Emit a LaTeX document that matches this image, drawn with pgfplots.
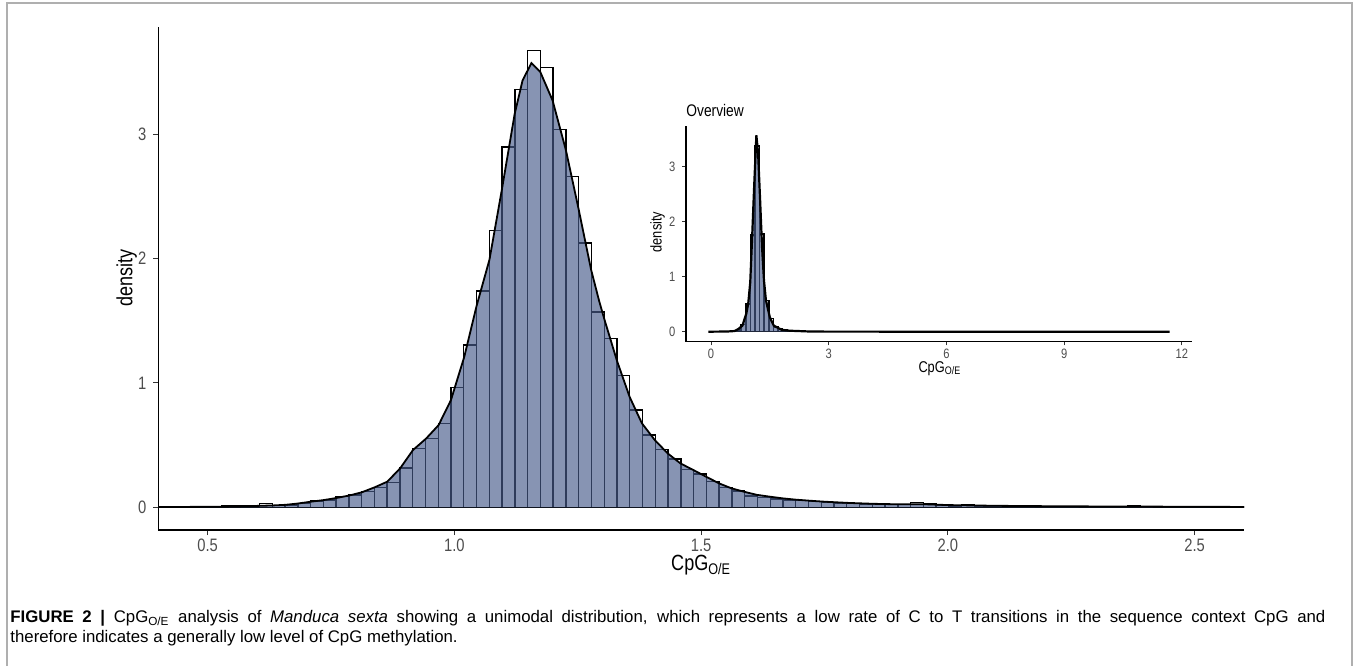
\documentclass[border=0pt]{standalone}
\usepackage{fontspec}
\setmainfont{Liberation Sans}
\newfontfamily\rc[FakeStretch=0.82]{Liberation Sans}
\usepackage{pgfplots}
\usepackage{pgfplotstable}
\pgfplotsset{compat=1.18}

\definecolor{densfill}{RGB}{71,91,139}
\definecolor{ticktext}{RGB}{77,77,77}
\definecolor{framegray}{RGB}{175,175,175}

% main histogram: left bin edge, density (last row = right end)
\pgfplotstableread{
x y
0.3981 0.004
0.4240 0.008
0.4498 0.004
0.4757 0.004
0.5016 0.005
0.5275 0.012
0.5533 0.010
0.5792 0.012
0.6051 0.032
0.6309 0.016
0.6568 0.018
0.6827 0.030
0.7085 0.050
0.7344 0.060
0.7603 0.085
0.7862 0.099
0.8120 0.125
0.8379 0.161
0.8638 0.198
0.8896 0.317
0.9155 0.474
0.9414 0.552
0.9672 0.675
0.9931 0.964
1.0190 1.304
1.0449 1.740
1.0707 2.227
1.0966 2.896
1.1225 3.360
1.1483 3.673
1.1742 3.534
1.2001 3.039
1.2259 2.661
1.2518 2.125
1.2777 1.571
1.3036 1.357
1.3294 1.060
1.3553 0.781
1.3812 0.581
1.4070 0.463
1.4329 0.387
1.4588 0.305
1.4846 0.268
1.5105 0.206
1.5364 0.161
1.5623 0.130
1.5881 0.091
1.6140 0.080
1.6399 0.067
1.6657 0.059
1.6916 0.053
1.7175 0.045
1.7433 0.037
1.7692 0.032
1.7951 0.032
1.8210 0.024
1.8468 0.021
1.8727 0.024
1.8986 0.021
1.9244 0.037
1.9503 0.027
1.9762 0.019
2.0020 0.008
2.0279 0.021
2.0538 0.011
2.0797 0.007
2.1055 0.006
2.1314 0.008
2.1573 0.013
2.1831 0.007
2.2090 0.005
2.2349 0.004
2.2607 0.004
2.2866 0.006
2.3125 0.004
2.3384 0.005
2.3642 0.011
2.3901 0.008
2.4160 0.004
2.4418 0.003
2.4677 0.003
2.4936 0.004
2.5194 0.003
2.5453 0.003
2.5712 0.004
2.5971 0.003
2.6229 0
}\histmain

% kernel density curve
\pgfplotstableread{
x y
0.400 0.003
0.450 0.003
0.500 0.004
0.550 0.006
0.580 0.009
0.606 0.012
0.632 0.015
0.658 0.020
0.682 0.030
0.709 0.045
0.735 0.058
0.761 0.075
0.787 0.095
0.812 0.120
0.838 0.160
0.864 0.206
0.890 0.313
0.916 0.460
0.943 0.554
0.968 0.661
0.993 0.862
1.020 1.210
1.045 1.620
1.071 1.990
1.096 2.550
1.122 3.160
1.138 3.430
1.156 3.571
1.174 3.500
1.199 3.270
1.226 2.870
1.251 2.410
1.277 1.910
1.293 1.663
1.304 1.510
1.329 1.183
1.355 0.888
1.380 0.675
1.406 0.541
1.432 0.434
1.458 0.353
1.484 0.300
1.510 0.246
1.536 0.193
1.561 0.153
1.587 0.125
1.613 0.100
1.640 0.085
1.665 0.072
1.690 0.062
1.720 0.053
1.750 0.045
1.800 0.035
1.850 0.028
1.900 0.024
1.950 0.025
2.000 0.018
2.100 0.012
2.200 0.009
2.300 0.007
2.400 0.006
2.500 0.004
2.600 0.003
}\densmain

% overview histogram (coarser bins)
\pgfplotstableread{
x y
0.1792 0.001
0.2968 0.002
0.4144 0.004
0.5320 0.010
0.6496 0.035
0.7672 0.130
0.8848 0.500
1.0024 1.760
1.1200 3.380
1.2376 1.780
1.3552 0.570
1.4728 0.240
1.5904 0.085
1.7080 0.045
1.8256 0.030
1.9432 0.025
2.0608 0.012
2.1784 0.008
2.2960 0.006
2.4136 0
}\histover

\pgfplotstableread{
x y
-0.070 0.000
0.400 0.003
0.600 0.012
0.700 0.050
0.800 0.110
0.900 0.330
0.950 0.520
1.000 0.900
1.050 1.750
1.100 2.650
1.156 3.571
1.200 3.250
1.250 2.420
1.300 1.550
1.350 0.930
1.400 0.570
1.500 0.260
1.600 0.110
1.800 0.035
2.000 0.018
2.500 0.004
3.000 0.001
11.690 0.000
}\densover

\begin{document}
\begin{tikzpicture}
\path[use as bounding box] (0pt,0pt) rectangle (679pt,333pt);
% figure frame
\draw[framegray, line width=0.9pt] (3.5pt,0pt) -- (3.5pt,331.5pt) -- (676pt,331.5pt) -- (676pt,0pt);

% main panel
\begin{axis}[
    at={(79.15pt,68pt)}, anchor=south west,
    scale only axis,
    width=542.85pt, height=251.5pt,
    xmin=0.4, xmax=2.6, ymin=-0.1825, ymax=3.861,
    axis x line=bottom, axis y line=left,
    axis line style={-, line width=0.75pt, black},
    xtick={0.5,1,1.5,2,2.5},
    xticklabels={0.5,1.0,1.5,2.0,2.5},
    ytick={0,1,2,3},
    yticklabels={0,1,2,3},
    tick align=outside,
    major tick length=2.5pt,
    tick style={line width=0.5pt, color=black!80},
    tick label style={font=\rc\fontsize{9}{10}\selectfont, text=ticktext},
    xticklabel style={yshift=1.5pt},
    xlabel={CpG\textsubscript{O/E}},
    ylabel={density},
    label style={font=\rc\fontsize{11}{12}\selectfont},
    xlabel style={at={(axis description cs:0.5,-0.0696)}, anchor=center},
    ylabel style={at={(axis description cs:-0.0291,0.501)}, anchor=center, rotate=0},
]
\addplot[ybar interval, fill=white, draw=black, line width=0.7pt] table[x=x,y=y]{\histmain};
\addplot[draw=none, fill=densfill, fill opacity=0.65] table[x=x,y=y]{\densmain} \closedcycle;
\addplot[black, line width=0.9pt] table[x=x,y=y]{\densmain};
\end{axis}

% overview inset
\begin{axis}[
    at={(343pt,162.15pt)}, anchor=south west,
    scale only axis,
    width=252.85pt, height=107.85pt,
    xmin=-0.637, xmax=12.25, ymin=-0.182, ymax=3.74,
    axis x line=bottom, axis y line=left,
    axis line style={-, line width=0.75pt, black},
    xtick={0,3,6,9,12},
    xticklabels={0,3,6,9,12},
    ytick={0,1,2,3},
    yticklabels={0,1,2,3},
    tick align=outside,
    major tick length=1.8pt,
    tick style={line width=0.5pt, color=black!80},
    tick label style={font=\rc\fontsize{6.8}{7.5}\selectfont, text=ticktext},
    xticklabel style={yshift=1.5pt},
    xlabel={CpG\textsubscript{O/E}},
    ylabel={density},
    label style={font=\rc\fontsize{7.8}{8.5}\selectfont},
    xlabel style={at={(axis description cs:0.502,-0.125)}, anchor=center},
    ylabel style={at={(axis description cs:-0.056,0.5086)}, anchor=center},
    title={Overview},
    title style={font=\rc\fontsize{8.4}{9.5}\selectfont, at={(axis description cs:0,1)}, anchor=west, yshift=1.65pt, inner sep=0pt},
]
\addplot[ybar interval, fill=white, draw=black, line width=0.8pt] table[x=x,y=y]{\histover};
\addplot[draw=none, fill=densfill, fill opacity=0.65] table[x=x,y=y]{\densover} \closedcycle;
\addplot[black, line width=1.1pt] table[x=x,y=y]{\densover};
\end{axis}

% caption
\node[anchor=base west, inner sep=0pt, font=\fontsize{8.4}{10}\selectfont] at (5pt,21.65pt)
  {\makebox[657.5pt][s]{\textbf{FIGURE 2 |} CpG\textsubscript{O/E} analysis of \textit{Manduca sexta} showing a unimodal distribution, which represents a low rate of C to T transitions in the sequence context CpG and}};
\node[anchor=base west, inner sep=0pt, font=\fontsize{8.4}{10}\selectfont] at (5pt,11.65pt)
  {therefore indicates a generally low level of CpG methylation.};
\end{tikzpicture}
\end{document}
